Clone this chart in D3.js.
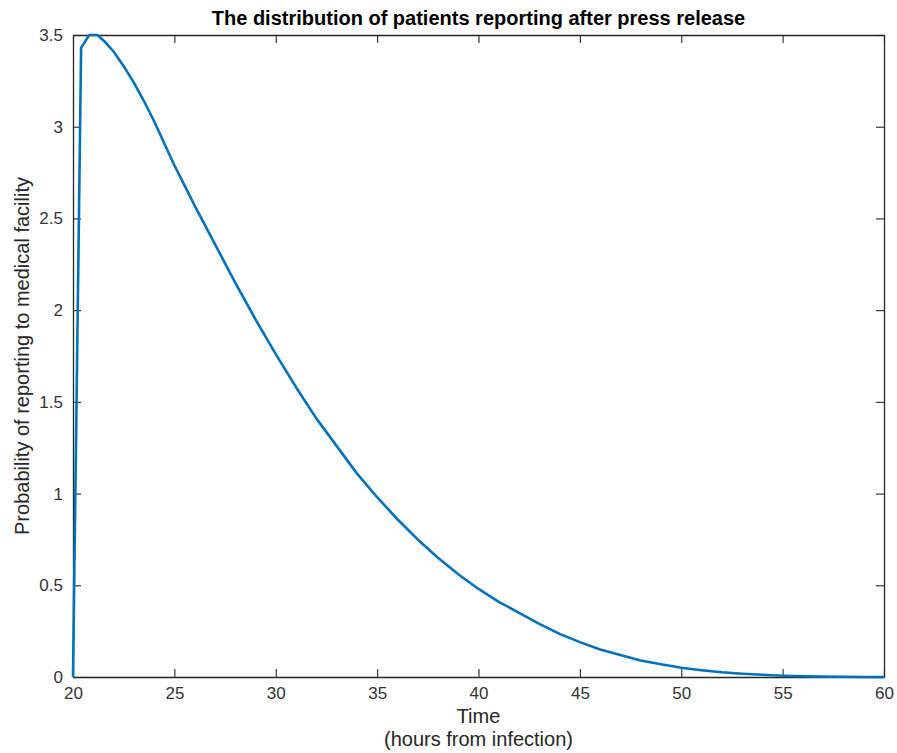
<!DOCTYPE html>
<html>
<head>
<meta charset="utf-8">
<script src="https://cdn.jsdelivr.net/npm/d3@7"></script>
<style>
  body { margin: 0; background: #fff; }
  svg text { font-family: "Liberation Sans", Arial, sans-serif; }
</style>
</head>
<body>
<svg id="chart" width="897" height="753"></svg>
<script>
// Werte
const hours = [20, 20.4, 20.8, 21.2, 21.6, 22, 22.5, 23, 23.5, 24, 24.5, 25, 25.5, 26, 27, 28, 29, 30,
               31, 32, 33, 34, 35, 36, 37, 38, 39, 40, 41, 42, 43, 44, 45, 46, 47, 48, 49, 50,
               51, 52, 53, 54, 55, 56, 57, 58, 59, 60];
const prob = [0, 3.43, 3.50, 3.50, 3.46, 3.41, 3.33, 3.24, 3.14, 3.03, 2.91, 2.79, 2.68, 2.57,
              2.36, 2.15, 1.95, 1.76, 1.58, 1.41, 1.26, 1.11, 0.98, 0.86, 0.75, 0.65, 0.56, 0.48,
              0.41, 0.35, 0.29, 0.235, 0.19, 0.15, 0.12, 0.09, 0.07, 0.05, 0.037, 0.026, 0.018,
              0.012, 0.007, 0.004, 0.002, 0.001, 0, 0];
const xTicks = [20, 25, 30, 35, 40, 45, 50, 55, 60];
const yTicks = [0, 0.5, 1, 1.5, 2, 2.5, 3, 3.5];

const title = 'The distribution of patients reporting after press release';
const xLabel = ['Time', '(hours from infection)'];
const yLabel = 'Probability of reporting to medical facility';

const m = { left: 73, right: 884, top: 35, bottom: 677 };
const axisColor = '#262626';

const svg = d3.select('#chart');
const x = d3.scaleLinear().domain([20, 60]).range([m.left, m.right]);
const y = d3.scaleLinear().domain([0, 3.5]).range([m.bottom, m.top]);

const tickLen = 8;

// Achsen unten/links mit Beschriftung, oben/rechts nur Ticks (Box)
const gx = svg.append('g').attr('transform', `translate(0,${m.bottom})`)
  .call(d3.axisBottom(x).tickValues(xTicks).tickSizeInner(-tickLen).tickSizeOuter(0).tickPadding(10)
    .tickFormat(d3.format('d')));
const gy = svg.append('g').attr('transform', `translate(${m.left},0)`)
  .call(d3.axisLeft(y).tickValues(yTicks).tickSizeInner(-tickLen).tickSizeOuter(0).tickPadding(10)
    .tickFormat(d => d));
const gt = svg.append('g').attr('transform', `translate(0,${m.top})`)
  .call(d3.axisTop(x).tickValues(xTicks).tickSizeInner(-tickLen).tickSizeOuter(0).tickFormat(''));
const gr = svg.append('g').attr('transform', `translate(${m.right},0)`)
  .call(d3.axisRight(y).tickValues(yTicks).tickSizeInner(-tickLen).tickSizeOuter(0).tickFormat(''));

[gx, gy, gt, gr].forEach(g => {
  g.select('.domain').attr('stroke', axisColor).attr('stroke-width', 1.3);
  g.selectAll('.tick line').attr('stroke', axisColor).attr('stroke-width', 1.1);
  g.selectAll('.tick text').attr('fill', '#333').attr('font-size', 17)
    .attr('font-family', '"Liberation Sans", Arial, sans-serif');
});

// Kurve
const line = d3.line().x((d, i) => x(hours[i])).y(d => y(d));
svg.append('path')
  .datum(prob)
  .attr('fill', 'none')
  .attr('stroke', '#0072BD')
  .attr('stroke-width', 2.6)
  .attr('stroke-linejoin', 'round')
  .attr('d', line);

// Titel + Achsentitel
svg.append('text')
  .attr('x', (m.left + m.right) / 2).attr('y', 25)
  .attr('text-anchor', 'middle')
  .attr('font-size', 20).attr('font-weight', 'bold')
  .attr('fill', '#000')
  .text(title);

xLabel.forEach((t, i) => {
  svg.append('text')
    .attr('x', (m.left + m.right) / 2).attr('y', 723 + i * 23)
    .attr('text-anchor', 'middle')
    .attr('font-size', 20)
    .attr('fill', '#262626')
    .text(t);
});

svg.append('text')
  .attr('transform', `translate(29,${(m.top + m.bottom) / 2}) rotate(-90)`)
  .attr('text-anchor', 'middle')
  .attr('font-size', 20)
  .attr('fill', '#262626')
  .text(yLabel);
</script>
</body>
</html>
